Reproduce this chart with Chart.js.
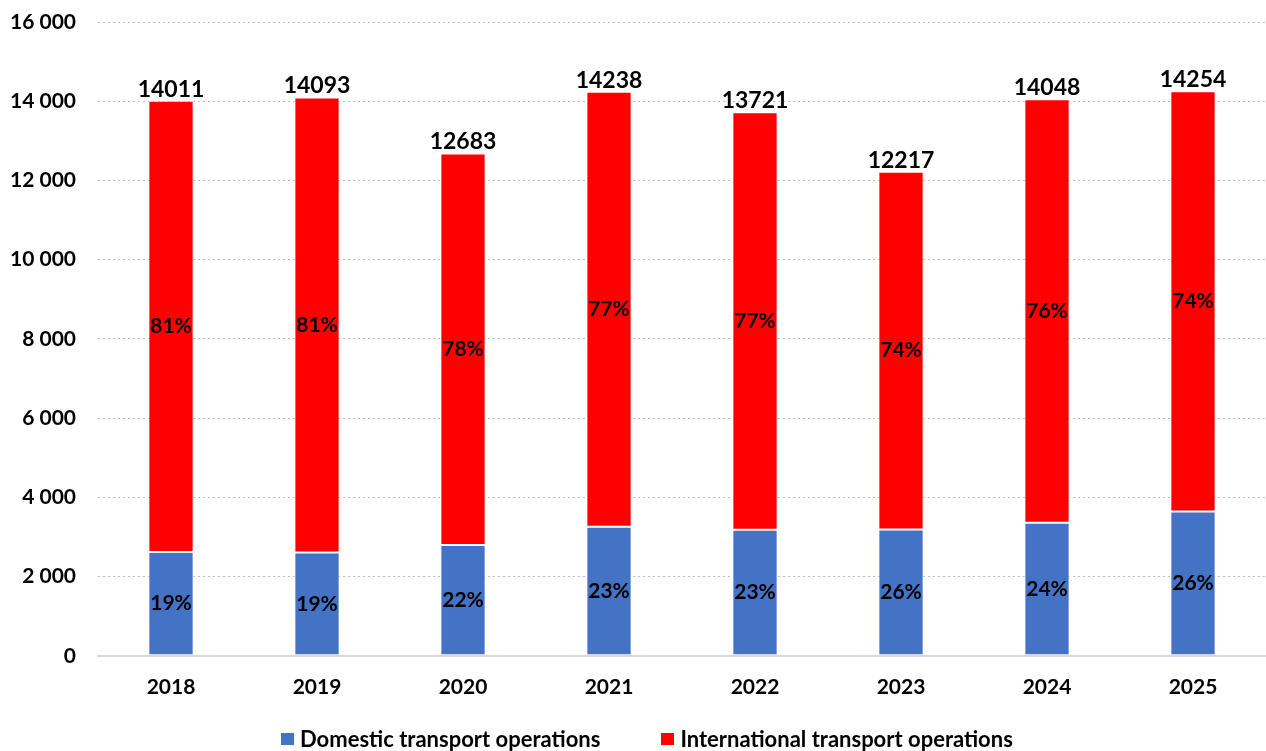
<!DOCTYPE html>
<html>
<head>
<meta charset="utf-8">
<script src="https://cdn.jsdelivr.net/npm/chart.js@4/dist/chart.umd.min.js"></script>
<style>
  html, body { margin: 0; padding: 0; background: #fff; overflow: hidden; }
  #wrap { position: relative; width: 1266px; height: 751px; }
  #legend {
    position: absolute; left: 281px; top: 726px;
    display: flex; align-items: center;
    font: bold 22px Lato, "Open Sans", sans-serif; color: #000;
    line-height: 26px; white-space: nowrap;
  }
  #legend .item { display: flex; align-items: center; }
  #legend .box { width: 13px; height: 12px; margin-right: 6px; }
</style>
</head>
<body>
<div id="wrap">
  <canvas id="chart"></canvas>
  <div id="legend"></div>
</div>
<script>
// data
const years = ["2018", "2019", "2020", "2021", "2022", "2023", "2024", "2025"];
const domestic = [2620, 2610, 2800, 3260, 3180, 3190, 3360, 3640];
const international = [11391, 11483, 9883, 10978, 10541, 9027, 10688, 10614];
const totals = [14011, 14093, 12683, 14238, 13721, 12217, 14048, 14254];
const domesticPct = ["19%", "19%", "22%", "23%", "23%", "26%", "24%", "26%"];
const internationalPct = ["81%", "81%", "78%", "77%", "77%", "74%", "76%", "74%"];
const yTicks = [0, 2000, 4000, 6000, 8000, 10000, 12000, 14000, 16000];

const FONT = "Lato, 'Open Sans', sans-serif";

// labels on the bars
const labelPlugin = {
    id: "barLabels",
    afterDatasetsDraw(chart) {
        const ctx = chart.ctx;
        ctx.save();
        ctx.fillStyle = "#000";
        ctx.textAlign = "center";
        ctx.textBaseline = "middle";
        ctx.font = "bold 21px " + FONT;
        const pcts = [domesticPct, internationalPct];
        chart.data.datasets.forEach((ds, i) => {
            const meta = chart.getDatasetMeta(i);
            meta.data.forEach((bar, j) => {
                const mid = (bar.y + bar.base) / 2;
                ctx.fillText(pcts[i][j], bar.x, mid);
            });
        });
        // totals on top
        ctx.font = "bold 23px " + FONT;
        ctx.textBaseline = "bottom";
        const top = chart.getDatasetMeta(1);
        top.data.forEach((bar, j) => {
            ctx.fillText(String(totals[j]), bar.x, bar.y);
        });
        ctx.restore();
    }
};

const chart = new Chart(document.getElementById("chart"), {
    type: "bar",
    data: {
        labels: years,
        datasets: [
            {
                label: "Domestic transport operations",
                data: domestic,
                backgroundColor: "#4472c4",
                borderColor: "rgba(255,255,255,0.7)",
                borderWidth: 1,
                borderSkipped: false,
                categoryPercentage: 1,
                barPercentage: 0.31
            },
            {
                label: "International transport operations",
                data: international,
                backgroundColor: "#ff0000",
                borderColor: "rgba(255,255,255,0.7)",
                borderWidth: 1,
                borderSkipped: false,
                categoryPercentage: 1,
                barPercentage: 0.31
            }
        ]
    },
    options: {
        responsive: true,
        maintainAspectRatio: false,
        animation: false,
        layout: { padding: { top: 22, right: -6, left: -12, bottom: 40 } },
        plugins: {
            legend: { display: false },
            tooltip: { enabled: false }
        },
        scales: {
            x: {
                stacked: true,
                grid: { display: false },
                border: { display: true, color: "#d9d9d9", width: 2 },
                ticks: {
                    color: "#000",
                    padding: 11,
                    font: { family: FONT, size: 21, weight: "bold" }
                }
            },
            y: {
                stacked: true,
                min: 0,
                max: 16000,
                afterBuildTicks: (axis) => {
                    axis.ticks = yTicks.map(v => ({ value: v }));
                },
                afterFit: (axis) => {
                    axis.paddingTop = 0;
                    axis.paddingBottom = 0;
                },
                grid: {
                    color: "#bfbfbf",
                    lineWidth: 1,
                    drawTicks: false
                },
                border: { display: false, dash: [2, 3] },
                ticks: {
                    color: "#000",
                    padding: 22,
                    font: { family: FONT, size: 21, weight: "bold" },
                    callback: function (value) {
                        return value.toLocaleString("en-US").replace(/,/g, " ");
                    }
                }
            }
        }
    },
    plugins: [labelPlugin]
});

// html legend
const legendEl = document.getElementById("legend");
chart.data.datasets.forEach((ds, i) => {
    const item = document.createElement("div");
    item.className = "item";
    if (i > 0) item.style.marginLeft = "61px";
    const box = document.createElement("span");
    box.className = "box";
    box.style.background = ds.backgroundColor;
    const txt = document.createElement("span");
    txt.textContent = ds.label;
    item.appendChild(box);
    item.appendChild(txt);
    legendEl.appendChild(item);
});
</script>
</body>
</html>
